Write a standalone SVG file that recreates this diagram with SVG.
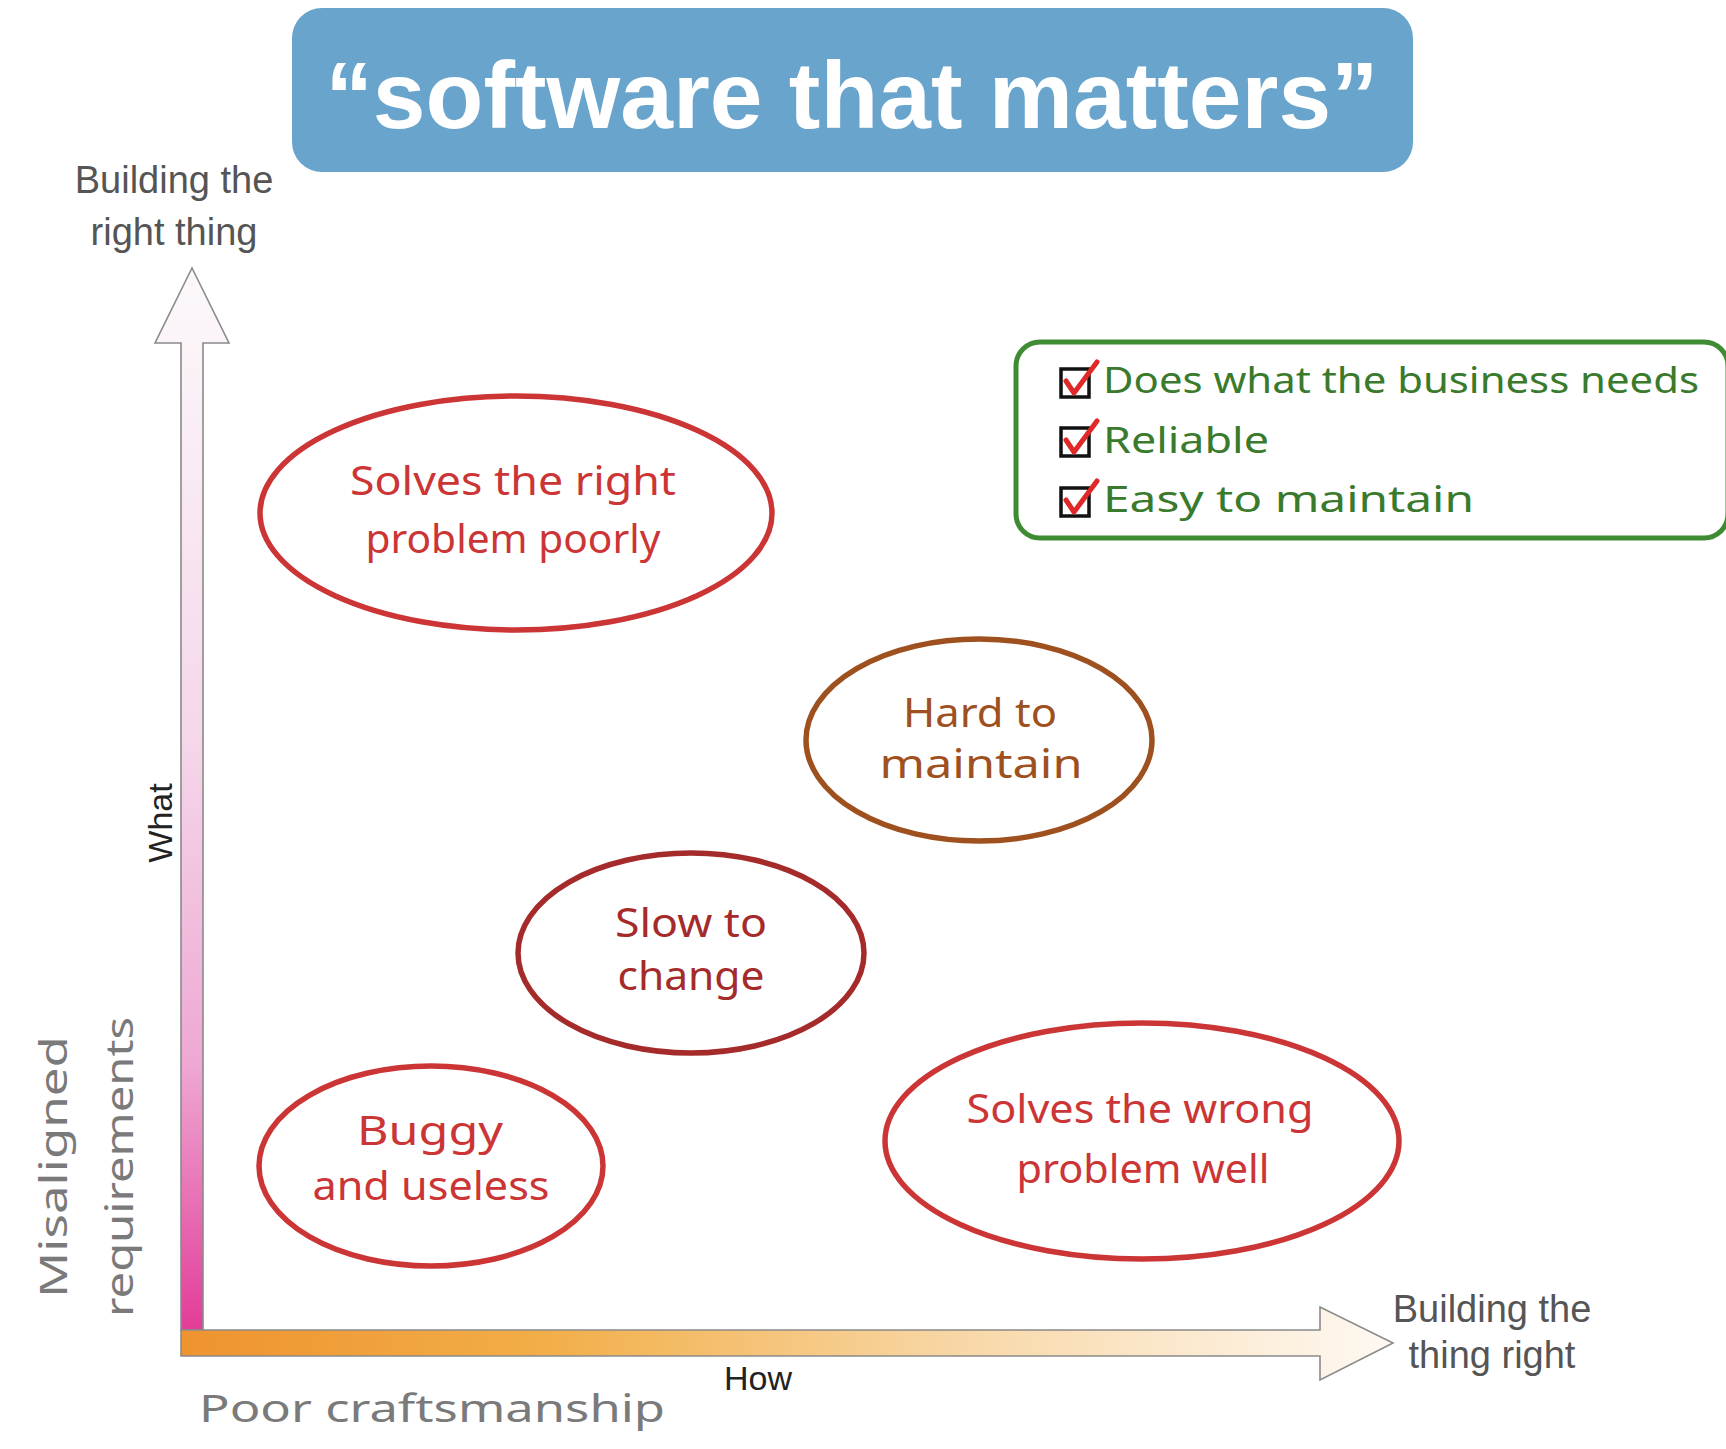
<svg xmlns="http://www.w3.org/2000/svg" width="1726" height="1449" viewBox="0 0 1726 1449">
<defs>
<linearGradient id="gv" x1="0" y1="268" x2="0" y2="1330" gradientUnits="userSpaceOnUse">
<stop offset="0" stop-color="#FCF9FB"/>
<stop offset="0.45" stop-color="#F5D6EA"/>
<stop offset="0.75" stop-color="#EEA8D3"/>
<stop offset="1" stop-color="#E23C98"/>
</linearGradient>
<linearGradient id="gh" x1="181" y1="0" x2="1393" y2="0" gradientUnits="userSpaceOnUse">
<stop offset="0" stop-color="#EE9330"/>
<stop offset="0.3" stop-color="#F2AE48"/>
<stop offset="0.65" stop-color="#F8D8A8"/>
<stop offset="1" stop-color="#FEF9F3"/>
</linearGradient>
<style>
.axis{stroke:#8a8a8a;stroke-width:1.6;stroke-linejoin:miter}
.lbl{font-family:"Liberation Sans",Arial,sans-serif;fill:#555;font-size:38px;text-anchor:middle}
.small{font-family:"Liberation Sans",Arial,sans-serif;fill:#222;font-size:34px;text-anchor:middle}
.hand{font-family:"Noto Sans","DejaVu Sans",sans-serif;text-anchor:middle}
.ov{fill:none;stroke-width:5.5}
.red{stroke:#CC3535}.redt{fill:#CC3535}
.brn{stroke:#9E501E}.brnt{fill:#9E501E}
.drd{stroke:#A52B2B}.drdt{fill:#A52B2B}
.gt{font-family:"Noto Sans","DejaVu Sans",sans-serif;fill:#3A7A2C;font-size:36px}
.gray{font-family:"Noto Sans","DejaVu Sans",sans-serif;fill:#7a7a7a;font-size:38px;text-anchor:middle}
.cb{fill:#fff;stroke:#111;stroke-width:3.5}
.ck{fill:none;stroke:#E02828;stroke-width:5;stroke-linecap:round;stroke-linejoin:round}
</style>
</defs>
<rect width="1726" height="1449" fill="#fff"/>

<g id="title">
<rect x="292" y="8" width="1121" height="164" rx="30" fill="#68A4CB"/>
<text x="852" y="128" font-family="Liberation Sans,Arial,sans-serif" font-weight="bold" font-size="95" fill="#fff" text-anchor="middle" textLength="1053" lengthAdjust="spacingAndGlyphs">“software that matters”</text>
</g>

<g id="connectors">
<polygon id="yaxis" class="axis" fill="url(#gv)" points="192,268 229,343 203,343 203,1330 181,1330 181,343 155,343"/>
<polygon id="xaxis" class="axis" fill="url(#gh)" points="181,1330 1320,1330 1320,1307 1393,1343 1320,1380 1320,1356 181,1356"/>
</g>

<g id="axis-labels">
<text class="lbl" x="174" y="193">Building the</text>
<text class="lbl" x="174" y="245">right thing</text>
<text class="lbl" x="1492" y="1322">Building the</text>
<text class="lbl" x="1492" y="1368">thing right</text>
<text class="small" x="758" y="1390">How</text>
<text class="small" transform="translate(172,823) rotate(-90)">What</text>
<text class="gray" transform="translate(67,1167) rotate(-90)" textLength="262" lengthAdjust="spacingAndGlyphs">Misaligned</text>
<text class="gray" transform="translate(133,1167) rotate(-90)" textLength="300" lengthAdjust="spacingAndGlyphs">requirements</text>
<text class="gray" x="432" y="1422" textLength="466" lengthAdjust="spacingAndGlyphs">Poor craftsmanship</text>
</g>

<g id="goals">
<rect x="1016" y="342" width="712" height="196" rx="24" fill="none" stroke="#3E8B33" stroke-width="5"/>
<rect class="cb" x="1061" y="369" width="28" height="28"/>
<path class="ck" d="M1066,381 L1074,393 L1097,362"/>
<text class="gt" x="1103" y="393" textLength="596" lengthAdjust="spacingAndGlyphs">Does what the business needs</text>
<rect class="cb" x="1061" y="428" width="28" height="28"/>
<path class="ck" d="M1066,440 L1074,452 L1097,421"/>
<text class="gt" x="1103" y="453" textLength="166" lengthAdjust="spacingAndGlyphs">Reliable</text>
<rect class="cb" x="1061" y="488" width="28" height="28"/>
<path class="ck" d="M1066,500 L1074,512 L1097,481"/>
<text class="gt" x="1103" y="512" textLength="371" lengthAdjust="spacingAndGlyphs">Easy to maintain</text>
</g>

<g id="right-problem-poorly">
<ellipse class="ov red" cx="516" cy="513" rx="256" ry="117"/>
<text class="hand redt" x="513" y="495" font-size="40" textLength="326" lengthAdjust="spacingAndGlyphs">Solves the right</text>
<text class="hand redt" x="513" y="553" font-size="40" textLength="295" lengthAdjust="spacingAndGlyphs">problem poorly</text>
</g>

<g id="hard-to-maintain">
<ellipse class="ov brn" cx="979" cy="740" rx="173" ry="101"/>
<text class="hand brnt" x="980" y="727" font-size="40" textLength="154" lengthAdjust="spacingAndGlyphs">Hard to</text>
<text class="hand brnt" x="981" y="778" font-size="40" textLength="203" lengthAdjust="spacingAndGlyphs">maintain</text>
</g>

<g id="slow-to-change">
<ellipse class="ov drd" cx="691" cy="953" rx="173" ry="100"/>
<text class="hand drdt" x="691" y="937" font-size="40" textLength="152" lengthAdjust="spacingAndGlyphs">Slow to</text>
<text class="hand drdt" x="691" y="990" font-size="40" textLength="147" lengthAdjust="spacingAndGlyphs">change</text>
</g>

<g id="buggy-and-useless">
<ellipse class="ov red" cx="431" cy="1166" rx="172" ry="100"/>
<text class="hand redt" x="430" y="1145" font-size="40" textLength="146" lengthAdjust="spacingAndGlyphs">Buggy</text>
<text class="hand redt" x="431" y="1200" font-size="40" textLength="237" lengthAdjust="spacingAndGlyphs">and useless</text>
</g>

<g id="wrong-problem-well">
<ellipse class="ov red" cx="1142" cy="1141" rx="257" ry="118"/>
<text class="hand redt" x="1140" y="1123" font-size="40" textLength="347" lengthAdjust="spacingAndGlyphs">Solves the wrong</text>
<text class="hand redt" x="1143" y="1183" font-size="40" textLength="253" lengthAdjust="spacingAndGlyphs">problem well</text>
</g>
</svg>
